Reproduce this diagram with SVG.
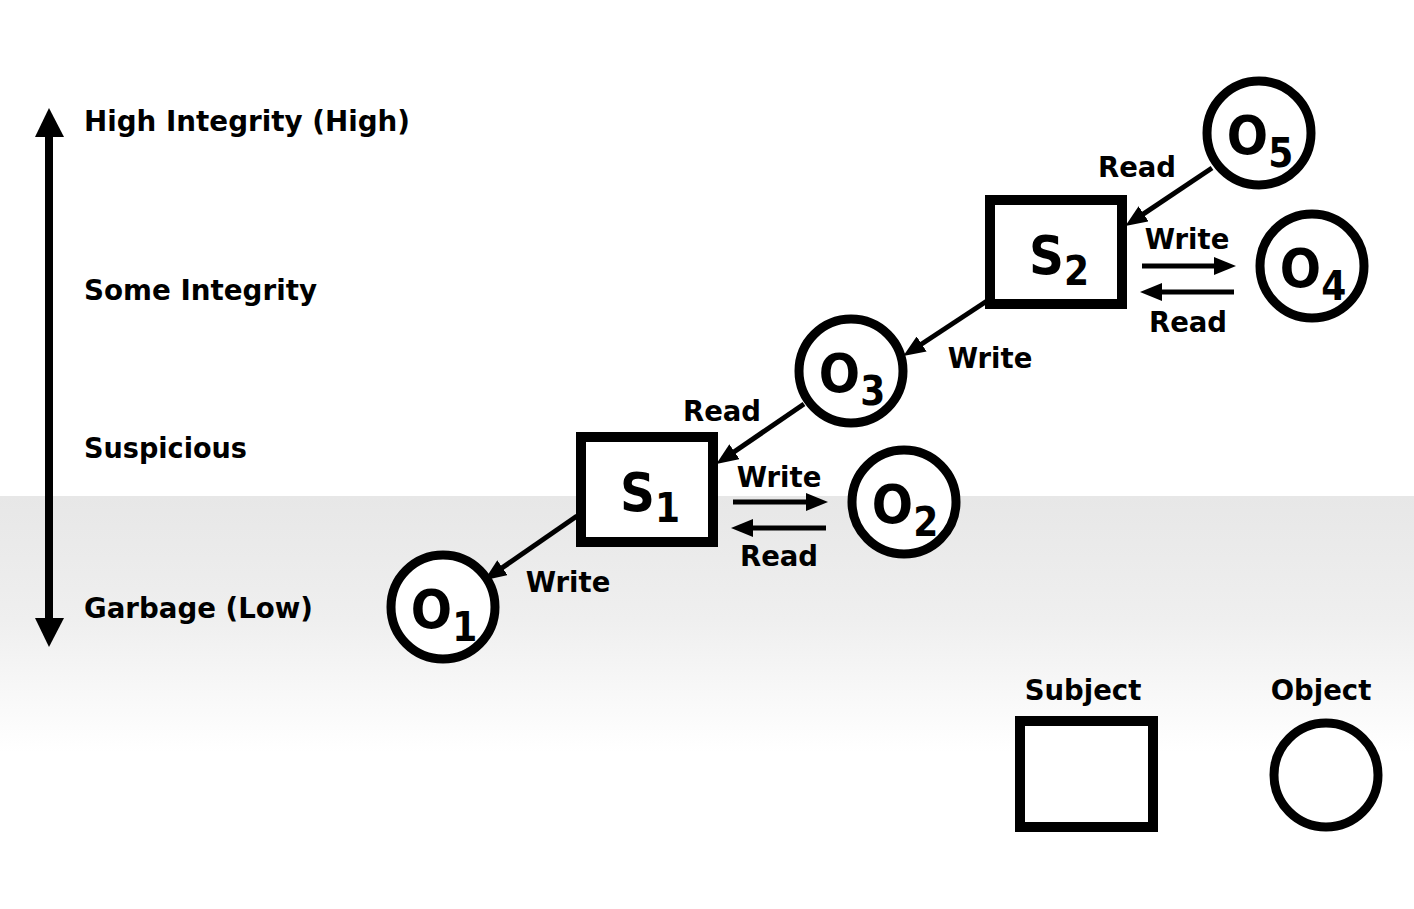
<svg xmlns="http://www.w3.org/2000/svg" width="1414" height="909" viewBox="0 0 1414 909">
  <defs>
    <linearGradient id="bg" x1="0" y1="0" x2="0" y2="1">
      <stop offset="0" stop-color="#e7e7e7"/>
      <stop offset="0.3" stop-color="#efefef"/>
      <stop offset="0.62" stop-color="#ffffff"/>
      <stop offset="1" stop-color="#ffffff"/>
    </linearGradient>
    <marker id="ah" markerUnits="userSpaceOnUse" markerWidth="22" markerHeight="18" viewBox="0 0 22 18" refX="10" refY="9" orient="auto">
      <path d="M0,0 L22,9 L0,18 z" fill="#000"/>
    </marker>
  </defs>
  <style>
    .lbl { font-family: "DejaVu Sans", Verdana, sans-serif; font-weight: bold; font-size: 27.5px; fill: #000; }
    .nm { font-family: "DejaVu Sans Condensed", "DejaVu Sans", Verdana, sans-serif; font-stretch: condensed; font-weight: bold; font-size: 54px; fill: #000; text-anchor: middle; }
    .sub { font-size: 40px; }
    .ctr { text-anchor: middle; }
    .subj { fill: #fff; stroke: #000; stroke-width: 10; }
    .obj { fill: #fff; stroke: #000; stroke-width: 9; }
    .edge { stroke: #000; stroke-width: 5; fill: none; marker-end: url(#ah); }
  </style>

  <rect x="0" y="0" width="1414" height="909" fill="#ffffff"/>
  <rect x="0" y="496" width="1414" height="413" fill="url(#bg)"/>

  <g id="axis">
    <line x1="49" y1="132" x2="49" y2="623" stroke="#000" stroke-width="8"/>
    <polygon points="49,108 35,137 64,137" fill="#000"/>
    <polygon points="49,647 35,618 64,618" fill="#000"/>
    <text class="lbl" x="84" y="131" textLength="326" lengthAdjust="spacingAndGlyphs">High Integrity (High)</text>
    <text class="lbl" x="84" y="300" textLength="233" lengthAdjust="spacingAndGlyphs">Some Integrity</text>
    <text class="lbl" x="84" y="458" textLength="163" lengthAdjust="spacingAndGlyphs">Suspicious</text>
    <text class="lbl" x="84" y="618" textLength="229" lengthAdjust="spacingAndGlyphs">Garbage (Low)</text>
  </g>

  <g id="connectors">
    <line class="edge" x1="1212" y1="168" x2="1135.3" y2="219.4"/>
    <line class="edge" x1="1142" y1="266" x2="1224" y2="266"/>
    <line class="edge" x1="1234" y1="292" x2="1152" y2="292"/>
    <line class="edge" x1="993" y1="297" x2="913.3" y2="349.5"/>
    <line class="edge" x1="804" y1="404" x2="726.2" y2="457.3"/>
    <line class="edge" x1="733" y1="502" x2="816" y2="502"/>
    <line class="edge" x1="826" y1="528" x2="743" y2="528"/>
    <line class="edge" x1="577" y1="516" x2="494.2" y2="573.3"/>
    <text class="lbl ctr" x="1137" y="177">Read</text>
    <text class="lbl ctr" x="1187" y="249">Write</text>
    <text class="lbl ctr" x="1188" y="332">Read</text>
    <text class="lbl ctr" x="990" y="368">Write</text>
    <text class="lbl ctr" x="722" y="421">Read</text>
    <text class="lbl ctr" x="779" y="487">Write</text>
    <text class="lbl ctr" x="779" y="566">Read</text>
    <text class="lbl ctr" x="568" y="592">Write</text>
  </g>

  <g id="O5">
    <circle class="obj" cx="1259" cy="133" r="52"/>
    <text class="nm" x="1260" y="154">O<tspan class="sub" dy="13">5</tspan></text>
  </g>
  <g id="S2">
    <rect class="subj" x="990" y="200" width="132" height="104"/>
    <text class="nm" x="1059" y="274">S<tspan class="sub" dy="11">2</tspan></text>
  </g>
  <g id="O4">
    <circle class="obj" cx="1312" cy="266" r="52"/>
    <text class="nm" x="1313" y="287">O<tspan class="sub" dy="13">4</tspan></text>
  </g>
  <g id="O3">
    <circle class="obj" cx="851" cy="371" r="52"/>
    <text class="nm" x="852" y="392">O<tspan class="sub" dy="13">3</tspan></text>
  </g>
  <g id="S1">
    <rect class="subj" x="581" y="437" width="132" height="105"/>
    <text class="nm" x="650" y="511">S<tspan class="sub" dy="11">1</tspan></text>
  </g>
  <g id="O2">
    <circle class="obj" cx="904" cy="502" r="52"/>
    <text class="nm" x="905" y="523">O<tspan class="sub" dy="13">2</tspan></text>
  </g>
  <g id="O1">
    <circle class="obj" cx="443" cy="607" r="52"/>
    <text class="nm" x="444" y="628">O<tspan class="sub" dy="13">1</tspan></text>
  </g>

  <g id="legend">
    <text class="lbl ctr" x="1083" y="700">Subject</text>
    <rect class="subj" x="1020" y="721" width="133" height="106"/>
    <text class="lbl ctr" x="1321" y="700">Object</text>
    <circle class="obj" cx="1326" cy="775" r="52"/>
  </g>
</svg>
